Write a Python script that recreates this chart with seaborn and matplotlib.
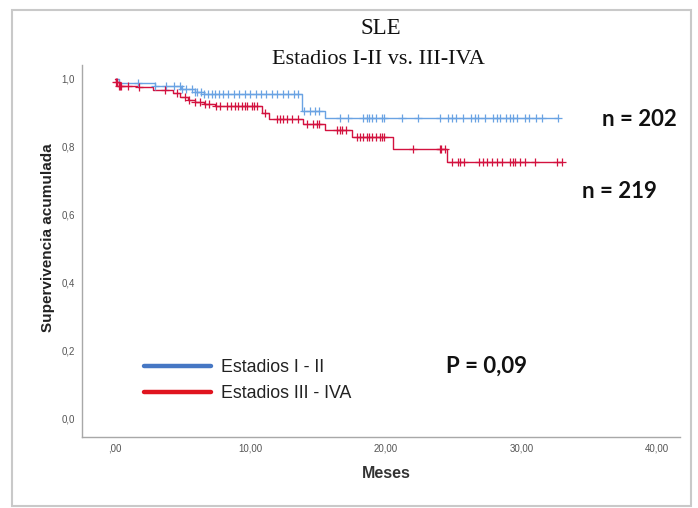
import numpy as np
import pandas as pd
import matplotlib
matplotlib.use("Agg")
import matplotlib.pyplot as plt
import seaborn as sns
from matplotlib.lines import Line2D
from matplotlib.patches import Rectangle
from matplotlib import font_manager

# ---------------- data ----------------
title = "SLE"
subtitle = "Estadios I-II vs. III-IVA"
group_labels = ["Estadios I - II", "Estadios III - IVA"]
n_labels = ["n = 202", "n = 219"]
p_label = "P = 0,09"
x_label = "Meses"
y_label = "Supervivencia acumulada"
x_ticks = [0, 10, 20, 30, 40]
x_tick_labels = [",00", "10,00", "20,00", "30,00", "40,00"]
y_ticks = [0.0, 0.2, 0.4, 0.6, 0.8, 1.0]
y_tick_labels = ["0,0", "0,2", "0,4", "0,6", "0,8", "1,0"]

# Estadios I - II (Kaplan-Meier steps)
blue_times = [0.0, 0.3, 3.0, 4.9, 5.9, 6.6, 13.8, 15.5]
blue_surv = [1.0, 0.986, 0.979, 0.970, 0.960, 0.955, 0.906, 0.884]
blue_end = 32.7
blue_censor = [1.7, 3.0, 3.8, 4.4, 4.8, 5.0, 5.3, 5.7, 5.9, 6.1, 6.4, 6.6, 6.9,
               7.2, 7.4, 7.7, 8.0, 8.4, 8.8, 9.2, 9.6, 10.0, 10.4, 10.8, 11.2,
               11.6, 12.0, 12.4, 12.8, 13.2, 13.5, 14.0, 14.4, 14.8, 15.1,
               16.6, 17.2, 18.3, 18.6, 18.8, 19.0, 19.3, 19.7, 19.9, 21.2,
               22.4, 24.0, 24.6, 24.9, 25.2, 25.7, 26.3, 26.6, 26.8, 27.3,
               27.9, 28.2, 28.4, 28.9, 29.2, 29.4, 29.7, 30.3, 30.6, 31.1,
               31.5, 32.7]

# Estadios III - IVA (Kaplan-Meier steps)
red_times = [0.0, 0.1, 0.3, 1.7, 2.8, 4.3, 4.8, 5.4, 5.9, 6.6, 7.4, 10.85,
             11.4, 13.9, 15.5, 17.5, 20.5, 24.5]
red_surv = [1.0, 0.990, 0.979, 0.975, 0.965, 0.957, 0.947, 0.937, 0.930,
            0.925, 0.920, 0.900, 0.881, 0.867, 0.849, 0.828, 0.793, 0.754]
red_end = 33.0
red_censor = [0.1, 0.2, 0.3, 0.4, 0.5, 1.0, 1.8, 3.7, 4.6, 5.2, 5.5, 5.9, 6.3,
              6.7, 7.0, 7.5, 7.8, 8.3, 8.6, 8.9, 9.1, 9.4, 9.6, 9.8, 10.1,
              10.3, 10.5, 11.1, 12.0, 12.2, 12.4, 12.7, 13.1, 13.5, 14.2, 14.6,
              14.9, 15.1, 16.4, 16.6, 16.8, 17.1, 17.9, 18.1, 18.3, 18.6, 18.8,
              19.0, 19.3, 19.6, 19.7, 19.9, 22.0, 24.0, 24.1, 24.4, 24.9, 25.3,
              25.5, 25.8, 26.9, 27.2, 27.5, 27.8, 28.2, 28.6, 29.2, 29.4, 29.5,
              29.9, 30.3, 31.0, 32.6, 33.0]

curve_colors = ["#6aa3e3", "#d3123f"]
legend_colors = ["#4677c4", "#e0141f"]

# ---------------- figure ----------------
sns.set_style("white")
plt.rcParams["font.family"] = ["Liberation Sans", "DejaVu Sans"]

installed = {f.name for f in font_manager.fontManager.ttflist}
narrow = ["Liberation Sans Narrow", "Liberation Sans"] if "Liberation Sans Narrow" in installed else ["Liberation Sans"]

fig = plt.figure(figsize=(6.98, 5.08), dpi=100)
W, H = 698, 508
ax = fig.add_axes([82 / W, 1 - 437 / H, (680 - 82) / W, (437 - 65) / H])


def km_frame(times, surv, end):
    t = list(times) + [end]
    s = list(surv) + [surv[-1]]
    return pd.DataFrame({"t": t, "s": s})


def censor_frame(times, surv, cens):
    idx = np.searchsorted(np.asarray(times), np.asarray(cens), side="right") - 1
    return pd.DataFrame({"t": cens, "s": np.asarray(surv)[idx]})


groups = [(blue_times, blue_surv, blue_end, blue_censor),
          (red_times, red_surv, red_end, red_censor)]
for (tm, sv, end, cens), col in zip(groups, curve_colors):
    df = km_frame(tm, sv, end)
    sns.lineplot(data=df, x="t", y="s", ax=ax, color=col, lw=1.0,
                 drawstyle="steps-post", estimator=None, sort=False)
    cf = censor_frame(tm, sv, cens)
    sns.scatterplot(data=cf, x="t", y="s", ax=ax, color=col, marker="+",
                    s=26, linewidth=0.9, zorder=3)

ax.set_xlim(-2.4, 41.7)
ax.set_ylim(-0.055, 1.04)
ax.set_xticks(x_ticks)
ax.set_xticklabels(x_tick_labels, family=narrow)
ax.set_yticks(y_ticks)
ax.set_yticklabels(y_tick_labels, family=narrow)
ax.tick_params(axis="both", length=0, labelsize=7, labelcolor="#555555")
ax.tick_params(axis="x", pad=5)
ax.tick_params(axis="y", pad=5)
for side in ["top", "right"]:
    ax.spines[side].set_visible(False)
for side in ["left", "bottom"]:
    ax.spines[side].set_color("#a8a8a8")
    ax.spines[side].set_linewidth(1.0)

ax.set_xlabel("")
ax.set_ylabel("")
fig.text(386 / W, 1 - 474 / H, x_label, ha="center", va="center",
         fontsize=11.5, fontweight="bold", family=narrow, color="#333333")
fig.text(48 / W, 1 - 238 / H, y_label, ha="center", va="center", rotation=90,
         fontsize=11, fontweight="bold", color="#222222")

handles = [Line2D([0], [0], color=c, lw=3.2) for c in legend_colors]
leg = ax.legend(handles, group_labels, loc="upper left",
                bbox_to_anchor=(135 / W, 1 - 350 / H), bbox_transform=fig.transFigure,
                frameon=False, fontsize=12.8, handlelength=3.75, handletextpad=0.6,
                labelspacing=0.5, borderpad=0)
for t in leg.get_texts():
    t.set_color("#222222")

# titles
fig.text(381 / W, 1 - 28 / H, title, ha="center", va="center",
         fontsize=16.5, family="Liberation Serif", color="#111111")
fig.text(378 / W, 1 - 60 / H, subtitle, ha="center", va="center",
         fontsize=16, family="Liberation Serif", color="#111111")

# annotations
fig.text(639 / W, 1 - 120 / H, n_labels[0], ha="center", va="center",
         fontsize=16, fontweight="bold", family="Lato", color="#111111")
fig.text(619 / W, 1 - 191 / H, n_labels[1], ha="center", va="center",
         fontsize=16, fontweight="bold", family="Lato", color="#111111")
fig.text(486 / W, 1 - 366 / H, p_label, ha="center", va="center",
         fontsize=16, fontweight="bold", family="Lato", color="#111111")

# outer frame
fig.patches.append(Rectangle((12 / W, 1 - 506 / H), (691 - 12) / W, (506 - 10) / H,
                             transform=fig.transFigure, fill=False,
                             edgecolor="#c9c9c9", lw=1.5))

fig.savefig("out.png", dpi=100)
